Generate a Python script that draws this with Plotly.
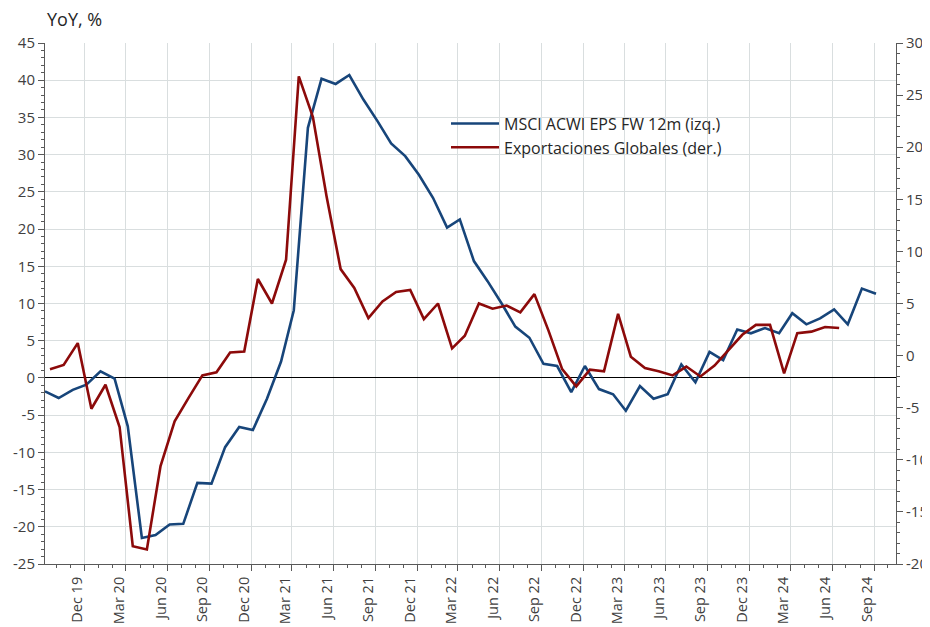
import pandas as pd
import plotly.graph_objects as go

# ---- data ----
msci_months = pd.date_range("2019-09-01", "2024-09-01", freq="MS")
msci_eps = [-1.8, -2.7, -1.6, -0.9, 0.9, -0.1, -6.5, -21.5, -21.1, -19.7,
            -19.6, -14.1, -14.2, -9.3, -6.6, -7.0, -2.8, 2.2, 9.1, 33.6,
            40.2, 39.5, 40.7, 37.4, 34.5, 31.5, 29.8, 27.3, 24.2, 20.2,
            21.3, 15.7, 13.0, 10.0, 6.9, 5.4, 1.9, 1.6, -1.9, 1.6,
            -1.5, -2.2, -4.4, -1.1, -2.8, -2.2, 1.8, -0.6, 3.5, 2.4,
            6.5, 6.0, 6.7, 6.0, 8.7, 7.2, 8.0, 9.2, 7.2, 12.0,
            11.3]

exp_months = pd.date_range("2019-09-01", "2024-06-01", freq="MS")
exports = [-1.3, -0.9, 1.2, -5.1, -2.8, -6.85, -18.3, -18.6, -10.6, -6.3,
           -4.1, -1.9, -1.6, 0.3, 0.4, 7.35, 5.0, 9.2, 26.8, 22.9,
           15.3, 8.3, 6.5, 3.6, 5.2, 6.1, 6.3, 3.5, 5.0, 0.7,
           1.9, 5.0, 4.5, 4.8, 4.15, 5.9, 2.4, -1.3, -2.95, -1.35,
           -1.5, 4.0, -0.1, -1.2, -1.5, -1.9, -1.05, -2.0, -0.95, 0.55,
           2.0, 2.95, 2.95, -1.7, 2.15, 2.3, 2.75, 2.65]

tick_dates = pd.date_range("2019-12-01", "2024-09-01", freq="3MS")
tick_labels = ["Dec 19", "Mar 20", "Jun 20", "Sep 20", "Dec 20", "Mar 21",
               "Jun 21", "Sep 21", "Dec 21", "Mar 22", "Jun 22", "Sep 22",
               "Dec 22", "Mar 23", "Jun 23", "Sep 23", "Dec 23", "Mar 24",
               "Jun 24", "Sep 24"]
minor_dates = pd.date_range("2019-10-01", "2024-10-01", freq="MS")

left_ticks = [-25, -20, -15, -10, -5, 0, 5, 10, 15, 20, 25, 30, 35, 40, 45]
right_ticks = [-20, -15, -10, -5, 0, 5, 10, 15, 20, 25, 30]

# ---- style ----
BLUE = "#17457A"
RED = "#8C0A0A"
FONT = "Open Sans"
TXT = "#404040"
GRID = "#D9DEDF"
AX = "#595959"

msci_x = msci_months + pd.Timedelta(days=4)
exp_x = exp_months + pd.Timedelta(days=15)

fig = go.Figure()
fig.add_trace(go.Scatter(x=msci_x, y=msci_eps, mode="lines",
                         name="MSCI ACWI EPS FW 12m (izq.)",
                         line=dict(color=BLUE, width=2.6), yaxis="y"))
fig.add_trace(go.Scatter(x=exp_x, y=exports, mode="lines",
                         name="Exportaciones Globales (der.)",
                         line=dict(color=RED, width=2.6), yaxis="y2"))

# page body adds an 8px offset, so the figure is 8px smaller and shifted
fig.update_layout(
    width=922, height=619,
    margin=dict(l=37, r=34, t=35, b=63, autoexpand=False),
    paper_bgcolor="white", plot_bgcolor="white",
    font=dict(family=FONT, color=TXT, size=14),
    showlegend=True,
    legend=dict(x=(446 - 45) / 851, y=0.878, xanchor="left", yanchor="top",
                bgcolor="rgba(0,0,0,0)", font=dict(size=16, color="#262626"),
                itemwidth=48, tracegroupgap=0),
    xaxis=dict(
        type="date", automargin=False,
        range=["2019-09-05", "2024-10-19"],
        tickmode="array", tickvals=tick_dates, ticktext=tick_labels,
        tickangle=-90, ticks="outside", ticklen=6, tickcolor=AX,
        ticklabelshift=-7,
        showgrid=True, gridcolor=GRID, gridwidth=1,
        showline=True, linecolor=AX, linewidth=1,
        zeroline=False,
        tickfont=dict(size=14.5, color=TXT),
        minor=dict(tickvals=minor_dates, ticks="outside", ticklen=3,
                   tickcolor=AX, showgrid=False),
    ),
    yaxis=dict(
        range=[-25, 45], automargin=False,
        tickmode="array", tickvals=left_ticks,
        ticktext=[str(v) for v in left_ticks],
        ticks="outside", ticklen=6, tickcolor=AX,
        showgrid=True, gridcolor=GRID, gridwidth=1,
        showline=True, linecolor=AX, linewidth=1,
        zeroline=True, zerolinecolor="#000000", zerolinewidth=1,
        tickfont=dict(size=15, color=TXT),
        minor=dict(dtick=1, tick0=0, ticks="outside", ticklen=3,
                   tickcolor=AX, showgrid=False),
    ),
    yaxis2=dict(
        range=[-20, 30], overlaying="y", side="right",
        automargin=False,
        tickmode="array", tickvals=right_ticks,
        ticktext=[str(v) for v in right_ticks],
        ticks="outside", ticklen=6, tickcolor=AX,
        showgrid=False, zeroline=False,
        showline=True, linecolor=AX, linewidth=1,
        tickfont=dict(size=15, color=TXT),
        minor=dict(dtick=1, tick0=0, ticks="outside", ticklen=3,
                   tickcolor=AX, showgrid=False),
    ),
)

fig.add_annotation(text="YoY, %", xref="paper", yref="paper", x=0, y=1,
                   xanchor="left", yanchor="bottom", yshift=10,
                   showarrow=False, font=dict(size=18, color="#262626"))

fig.write_html("out.html")
